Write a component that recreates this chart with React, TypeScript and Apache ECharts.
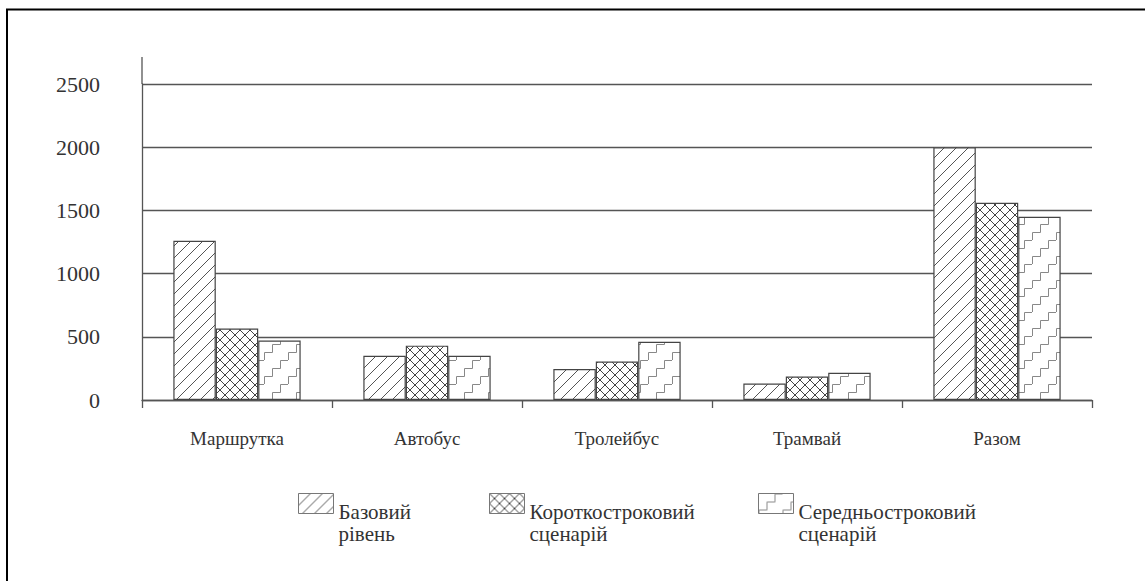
import React, { useEffect, useRef } from "react";
import * as echarts from "echarts";

const categories = ["Маршрутка", "Автобус", "Тролейбус", "Трамвай", "Разом"];
const seriesNames = ["Базовий рівень", "Короткостроковий сценарій", "Середньостроковий сценарій"];
const baseValues = [1260, 350, 245, 130, 2000];
const shortValues = [565, 430, 305, 185, 1560];
const midValues = [470, 350, 460, 215, 1450];
const yTicks = [0, 500, 1000, 1500, 2000, 2500];

function makeDiagonal(): HTMLCanvasElement {
  const T = 12;
  const c = document.createElement("canvas");
  c.width = T;
  c.height = T;
  const g = c.getContext("2d")!;
  g.fillStyle = "#fff";
  g.fillRect(0, 0, T, T);
  g.strokeStyle = "#555";
  g.lineWidth = 1;
  for (const off of [-T, 0, T]) {
    g.beginPath();
    g.moveTo(off - 1, T + 1);
    g.lineTo(off + T + 1, -1);
    g.stroke();
  }
  return c;
}

function makeCross(): HTMLCanvasElement {
  const T = 10;
  const c = document.createElement("canvas");
  c.width = T;
  c.height = T;
  const g = c.getContext("2d")!;
  g.fillStyle = "#fff";
  g.fillRect(0, 0, T, T);
  g.strokeStyle = "#444";
  g.lineWidth = 1;
  for (const off of [-T, 0, T]) {
    g.beginPath();
    g.moveTo(off - 1, T + 1);
    g.lineTo(off + T + 1, -1);
    g.stroke();
    g.beginPath();
    g.moveTo(off - 1, -1);
    g.lineTo(off + T + 1, T + 1);
    g.stroke();
  }
  return c;
}

function makeStairs(): HTMLCanvasElement {
  const T = 24;
  const s = 8;
  const c = document.createElement("canvas");
  c.width = T;
  c.height = T;
  const g = c.getContext("2d")!;
  g.fillStyle = "#fff";
  g.fillRect(0, 0, T, T);
  g.strokeStyle = "#888";
  g.lineWidth = 1;
  g.beginPath();
  g.moveTo(0.5, T);
  g.lineTo(0.5, T - s + 0.5);
  g.lineTo(s + 0.5, T - s + 0.5);
  g.lineTo(s + 0.5, T - 2 * s + 0.5);
  g.lineTo(2 * s + 0.5, T - 2 * s + 0.5);
  g.lineTo(2 * s + 0.5, 0.5);
  g.lineTo(T, 0.5);
  g.stroke();
  return c;
}

export default function App() {
  const ref = useRef<HTMLDivElement>(null);
  useEffect(() => {
    if (!ref.current) return;
    const chart = echarts.init(ref.current, undefined, { renderer: "svg" });
    const pats = [makeDiagonal(), makeCross(), makeStairs()];
    const values = [baseValues, shortValues, midValues];
    const font = "Liberation Serif, DejaVu Serif, serif";
    const legendLefts = [298, 489, 758];
    const option: any = {
      animation: false,
      backgroundColor: "#fff",
      textStyle: { fontFamily: font },
      grid: { left: 142, right: 53, top: 84, bottom: 181, containLabel: false },
      xAxis: {
        type: "category",
        data: categories,
        boundaryGap: true,
        axisLine: { lineStyle: { color: "#555", width: 1.3 } },
        axisTick: { show: true, length: 8, lineStyle: { color: "#555", width: 1.3 } },
        axisLabel: { margin: 29, fontSize: 19, color: "#333", fontFamily: font },
        splitLine: { show: false },
      },
      yAxis: {
        type: "value",
        min: yTicks[0],
        max: yTicks[yTicks.length - 1],
        interval: 500,
        axisLine: { show: true, lineStyle: { color: "#555", width: 1.3 } },
        axisTick: { show: false },
        axisLabel: {
          margin: 42,
          fontSize: 22,
          color: "#333",
          fontFamily: font,
          formatter: (v: number) => String(v),
        },
        splitLine: { show: true, lineStyle: { color: "#555", width: 1.3 } },
      },
      legend: seriesNames.map((n, i) => ({
        data: [n],
        left: legendLefts[i],
        top: 493,
        padding: 0,
        itemWidth: 35,
        itemHeight: 20,
        itemGap: 5,
        selectedMode: false,
        icon: "rect",
        formatter: (name: string) =>
          name
            .split(" ")
            .map((w) => "{t|" + w + "}")
            .join("\n"),
        textStyle: {
          fontFamily: font,
          fontSize: 21,
          color: "#333",
          padding: [38, 0, 0, 0],
          rich: {
            t: { fontFamily: font, fontSize: 21, color: "#333", lineHeight: 22 },
          },
        },
        itemStyle: { borderColor: "#777", borderWidth: 1 },
      })),
      series: seriesNames.map((n, i) => ({
        name: n,
        type: "bar",
        data: values[i],
        barGap: "0%",
        barCategoryGap: "33%",
        itemStyle: {
          color: { image: pats[i], repeat: "repeat" },
          borderColor: "#444",
          borderWidth: 1.2,
        },
      })),
      graphic: [
        {
          type: "line",
          shape: { x1: 142, y1: 57, x2: 142, y2: 84 },
          style: { stroke: "#555", lineWidth: 1.3 },
        },
        {
          type: "polyline",
          shape: { points: [[7, 581], [7, 9.5], [1145, 9.5]] },
          style: { stroke: "#000", lineWidth: 2, fill: null },
        },
      ],
    };
    chart.setOption(option);
    return () => chart.dispose();
  }, []);
  return (
    <div
      ref={ref}
      style={{ position: "absolute", left: 0, top: 0, width: 1145, height: 581 }}
    />
  );
}
